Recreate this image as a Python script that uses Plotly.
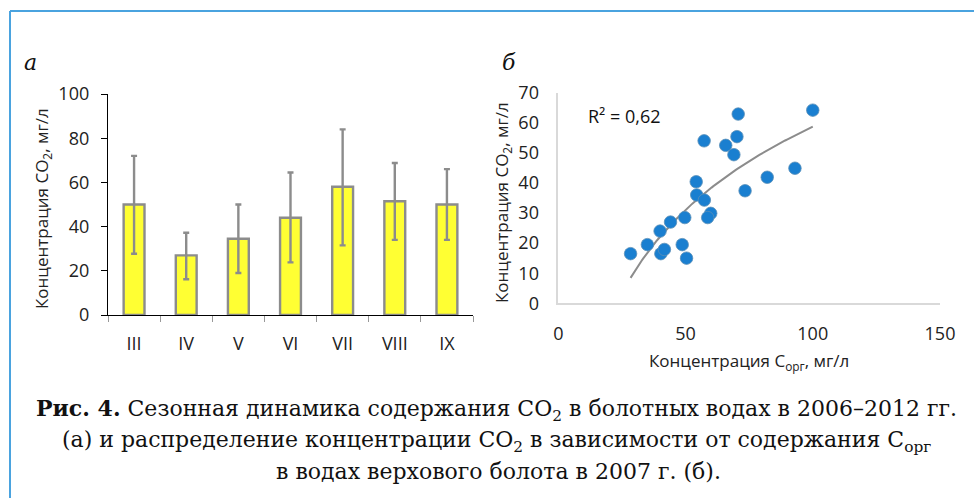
import numpy as np
import plotly.graph_objects as go

# ---- data: panel (a) ----
months = ["III", "IV", "V", "VI", "VII", "VIII", "IX"]
co2_mean = [50, 27, 34.5, 44, 58, 51.5, 50]
co2_upper = [72, 37.2, 50, 64.5, 84, 68.8, 66]
co2_lower = [27.7, 16.2, 19, 23.8, 31.5, 34, 34]

# ---- data: panel (б) ----
c_org = [28.4, 35.0, 40.0, 40.3, 41.7, 44.1, 48.7, 49.7, 50.4, 54.2, 54.4, 57.4,
         57.3, 59.9, 58.7, 65.8, 69.0, 70.2, 70.7, 73.4, 82.1, 93.0, 100.0]
co2_b = [16.5, 19.5, 24.0, 16.5, 17.9, 27.0, 19.5, 28.5, 15.0, 40.4, 36.0, 34.3,
         54.0, 29.9, 28.5, 52.5, 49.4, 55.4, 62.9, 37.4, 41.9, 44.9, 64.2]

W, H = 974, 498

err_plus = [u - m for u, m in zip(co2_upper, co2_mean)]
err_minus = [m - l for m, l in zip(co2_mean, co2_lower)]

fig = go.Figure()

fig.add_trace(go.Bar(
    x=months, y=co2_mean, width=0.4,
    marker=dict(color="#ffff33", line=dict(color="#8c8c8c", width=2.4)),
    error_y=dict(type="data", symmetric=False, array=err_plus, arrayminus=err_minus,
                 color="#8c8c8c", thickness=2.4, width=3),
    xaxis="x", yaxis="y", showlegend=False, hoverinfo="skip"))

# logarithmic trend line fitted to the data
a, b = np.polyfit(np.log(c_org), co2_b, 1)
xt = np.linspace(min(c_org), max(c_org), 100)
yt = a * np.log(xt) + b
fig.add_trace(go.Scatter(
    x=xt, y=yt, mode="lines", line=dict(color="#8c8c8c", width=2),
    xaxis="x2", yaxis="y2", showlegend=False, hoverinfo="skip"))

fig.add_trace(go.Scatter(
    x=c_org, y=co2_b, mode="markers",
    marker=dict(size=12.5, color="#1a7fd0", line=dict(color="#5b8fb8", width=0.8)),
    xaxis="x2", yaxis="y2", showlegend=False))

def px_x(p):
    return p / W

def px_y(p):
    return 1 - p / H

tickfont = dict(family="Open Sans", size=18, color="#222222")
titlefont = dict(family="Open Sans", size=17, color="#222222")

fig.update_layout(
    width=W, height=H,
    margin=dict(l=0, r=0, t=0, b=0, pad=0),
    paper_bgcolor="white", plot_bgcolor="white",
    font=dict(family="Open Sans", color="#222222"),
    xaxis=dict(domain=[px_x(108), px_x(473)], anchor="y", type="category",
               range=[-0.5, 6.5], showgrid=False, showline=True, linecolor="#000000",
               linewidth=1.3, ticks="outside", tickson="boundaries", ticklen=6,
               tickcolor="#999999", tickfont=tickfont, ticklabelstandoff=12,
               automargin=False),
    yaxis=dict(domain=[px_y(315), px_y(94)], anchor="x", range=[0, 100],
               tickvals=[0, 20, 40, 60, 80, 100], showgrid=False, showline=True,
               linecolor="#000000", linewidth=1.3, ticks="outside", ticklen=6,
               tickcolor="#000000", tickfont=tickfont, zeroline=False,
               ticklabelstandoff=8, automargin=False),
    xaxis2=dict(domain=[px_x(558.3), px_x(940)], anchor="y2", range=[0, 150],
                tickvals=[0, 50, 100, 150], showgrid=False, showline=True,
                linecolor="#d9d9d9", linewidth=1.5, ticks="", tickfont=tickfont,
                zeroline=False, ticklabelstandoff=13, automargin=False),
    yaxis2=dict(domain=[px_y(303.3), px_y(92.7)], anchor="x2", range=[0, 70],
                tickvals=[0, 10, 20, 30, 40, 50, 60, 70], showgrid=False,
                showline=True, linecolor="#d9d9d9", linewidth=1.5, ticks="",
                tickfont=tickfont, zeroline=False, ticklabelstandoff=14,
                automargin=False),
)

ann = []
# panel letters
ann.append(dict(x=px_x(22), y=px_y(62), xref="paper", yref="paper", xanchor="left",
                yanchor="middle", showarrow=False, text="<i>а</i>",
                font=dict(family="DejaVu Serif", size=22, color="#111111")))
ann.append(dict(x=px_x(500), y=px_y(62), xref="paper", yref="paper", xanchor="left",
                yanchor="middle", showarrow=False, text="<i>б</i>",
                font=dict(family="DejaVu Serif", size=22, color="#111111")))
# axis titles
ann.append(dict(x=px_x(42), y=px_y(209), xref="paper", yref="paper", xanchor="center",
                yanchor="middle", showarrow=False, textangle=-90,
                text="Концентрация CO<sub>2</sub>, мг/л", font=titlefont))
ann.append(dict(x=px_x(503), y=px_y(203), xref="paper", yref="paper", xanchor="center",
                yanchor="middle", showarrow=False, textangle=-90,
                text="Концентрация CO<sub>2</sub>, мг/л", font=titlefont))
ann.append(dict(x=px_x(749), y=px_y(361), xref="paper", yref="paper", xanchor="center",
                yanchor="middle", showarrow=False,
                text="Концентрация C<sub>орг</sub>, мг/л", font=titlefont))
ann.append(dict(x=px_x(586), y=px_y(116), xref="paper", yref="paper", xanchor="left",
                yanchor="middle", showarrow=False,
                text="R² = 0,62",
                font=dict(family="Open Sans", size=18, color="#111111")))
# caption
capfont = dict(family="DejaVu Serif", size=22, color="#111111")
ann.append(dict(x=px_x(496), y=px_y(410), xref="paper", yref="paper", xanchor="center",
                yanchor="middle", showarrow=False, font=capfont,
                text="<b>Рис. 4.</b> Сезонная динамика содержания CO<sub>2</sub> в болотных водах в 2006–2012 гг."))
ann.append(dict(x=px_x(496), y=px_y(441), xref="paper", yref="paper", xanchor="center",
                yanchor="middle", showarrow=False, font=capfont,
                text="(а) и распределение концентрации CO<sub>2</sub> в зависимости от содержания C<sub>орг</sub>"))
ann.append(dict(x=px_x(499), y=px_y(471), xref="paper", yref="paper", xanchor="center",
                yanchor="middle", showarrow=False, font=capfont,
                text="в водах верхового болота в 2007 г. (б)."))
fig.update_layout(annotations=ann)

# blue frame (top and left edges visible)
fig.update_layout(shapes=[
    dict(type="line", xref="paper", yref="paper", x0=px_x(10), x1=1.01,
         y0=px_y(11), y1=px_y(11), line=dict(color="#4aa3df", width=2)),
    dict(type="line", xref="paper", yref="paper", x0=px_x(10), x1=px_x(10),
         y0=px_y(11), y1=-0.01, line=dict(color="#4aa3df", width=2)),
])

fig.write_html("out.html", config={"displayModeBar": False},
               post_script="document.body.style.margin='0';"
                           "document.body.style.overflow='hidden';"
                           "document.documentElement.style.overflow='hidden';")
